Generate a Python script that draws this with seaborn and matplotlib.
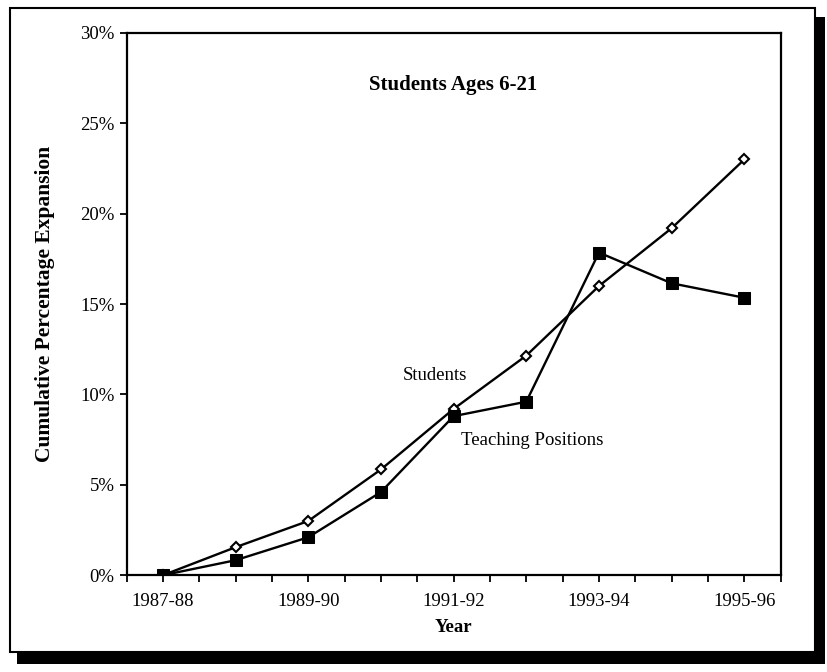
import numpy as np
import pandas as pd
import matplotlib
matplotlib.use("Agg")
import matplotlib.pyplot as plt
import seaborn as sns
from matplotlib.patches import Rectangle
from matplotlib.ticker import PercentFormatter, MultipleLocator

# Data (cumulative % expansion since 1987-88)
years = ['1987-88', '1988-89', '1989-90', '1990-91', '1991-92',
         '1992-93', '1993-94', '1994-95', '1995-96']
students = [0.0, 1.55, 3.0, 5.85, 9.2, 12.15, 16.0, 19.2, 23.0]
teaching = [0.0, 0.83, 2.1, 4.6, 8.8, 9.6, 17.85, 16.15, 15.35]
tick_years = ['1987-88', '1989-90', '1991-92', '1993-94', '1995-96']

df = pd.DataFrame({'idx': np.arange(len(years)), 'Year': years,
                   'Students': students, 'Teaching Positions': teaching})

sns.set_style("ticks")
plt.rcParams['font.family'] = ['Liberation Serif', 'DejaVu Serif']
plt.rcParams['text.color'] = 'black'
plt.rcParams['axes.labelcolor'] = 'black'
plt.rcParams['xtick.color'] = 'black'
plt.rcParams['ytick.color'] = 'black'

fig = plt.figure(figsize=(8.27, 6.72), dpi=100)

# outer frame with drop shadow
fig.patches.append(Rectangle((0.020, 0.012), 0.978, 0.962, transform=fig.transFigure,
                             facecolor='black', edgecolor='none', zorder=0))
fig.patches.append(Rectangle((0.012, 0.030), 0.974, 0.958, transform=fig.transFigure,
                             facecolor='white', edgecolor='black', linewidth=1.5, zorder=1))

ax = fig.add_axes([0.153, 0.144, 0.791, 0.807])
ax.set_zorder(2)

sns.lineplot(data=df, x='idx', y='Students', ax=ax, color='black', linewidth=1.7,
             marker='D', markersize=5.5, markerfacecolor='white',
             markeredgecolor='black', markeredgewidth=1.5)
sns.lineplot(data=df, x='idx', y='Teaching Positions', ax=ax, color='black', linewidth=1.7,
             marker='s', markersize=8.5, markerfacecolor='black', markeredgecolor='black')

ax.set_xlim(-0.5, len(years) - 0.5)
ax.set_ylim(0, 30)
ax.yaxis.set_major_locator(MultipleLocator(5))
ax.yaxis.set_major_formatter(PercentFormatter(decimals=0))
ax.set_xticks([years.index(y) for y in tick_years])
ax.set_xticklabels(tick_years)
ax.xaxis.set_minor_locator(MultipleLocator(0.5))

ax.tick_params(axis='both', which='both', direction='out', length=5, width=1.3,
               labelsize=13.5)
ax.tick_params(axis='x', which='major', pad=8)
for s in ax.spines.values():
    s.set_linewidth(1.6)
    s.set_color('black')

ax.set_xlabel('Year', fontsize=13.5, fontweight='bold', labelpad=6)
ax.set_ylabel('Cumulative Percentage Expansion', fontsize=15.5, fontweight='bold', labelpad=18)
ax.set_title('Students Ages 6-21', fontsize=15, fontweight='bold', y=0.88)

ax.text(3.3, 10.8, 'Students', fontsize=13.5)
ax.text(4.1, 7.2, 'Teaching Positions', fontsize=13.5)

fig.savefig('out.png', dpi=100)
